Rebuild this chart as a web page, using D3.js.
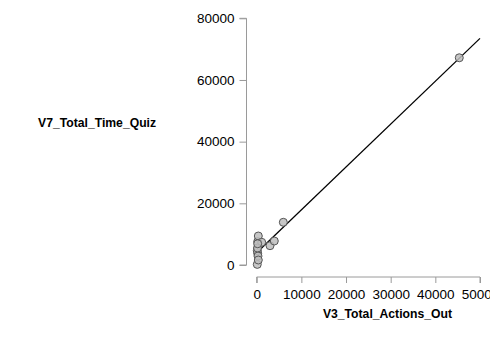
<!DOCTYPE html>
<html>
<head>
<meta charset="utf-8">
<script src="https://cdn.jsdelivr.net/npm/d3@7"></script>
<style>
  html, body { margin: 0; padding: 0; background: #fff; }
  svg { display: block; font-family: "Liberation Sans", Arial, sans-serif; }
</style>
</head>
<body>
<svg id="chart" width="490" height="347"></svg>
<script>
// Data
const totalActionsOut = [130, 220, 360, 220, 1120, 2980, 3940, 130, 180, 220, 290, 360, 5960, 45360];
const totalTimeQuiz   = [200, 7560, 9400, 3790, 7360, 6260, 7780, 4640, 5500, 6900, 2900, 1620, 13850, 67200];
const xTicks = [0, 10000, 20000, 30000, 40000, 50000];
const yTicks = [0, 20000, 40000, 60000, 80000];
const fitIntercept = 4000;
const fitSlope = 1.39;
const xTitle = "V3_Total_Actions_Out";
const yTitle = "V7_Total_Time_Quiz";

const svg = d3.select("#chart");
const x = d3.scaleLinear().domain([0, 50000]).range([256.7, 480]);
const y = d3.scaleLinear().domain([0, 80000]).range([265, 18.3]);

const axisColor = "#9a9a9a";

// Y axis
const yAxis = svg.append("g").attr("transform", "translate(246.5,0)")
  .call(d3.axisLeft(y).tickValues(yTicks).tickSize(7).tickPadding(5).tickFormat(d3.format("d")));
yAxis.select(".domain").attr("d", `M-7,${y(0)}H0V${y(80000)}H-7`).attr("stroke", axisColor);
yAxis.selectAll(".tick line").attr("stroke", axisColor);
yAxis.selectAll(".tick text").attr("fill", "#000").attr("font-size", 13.5).attr("font-family", "Liberation Sans, Arial, sans-serif");

// X axis
const xAxis = svg.append("g").attr("transform", "translate(0,277)")
  .call(d3.axisBottom(x).tickValues(xTicks).tickSize(6).tickPadding(6).tickFormat(d3.format("d")));
xAxis.select(".domain").attr("d", `M${x(0)},6V0H${x(50000)}V6`).attr("stroke", axisColor);
xAxis.selectAll(".tick line").attr("stroke", axisColor);
xAxis.selectAll(".tick text").attr("fill", "#000").attr("font-size", 13.5).attr("font-family", "Liberation Sans, Arial, sans-serif");

// Regression line
svg.append("line")
  .attr("x1", x(0)).attr("y1", y(fitIntercept))
  .attr("x2", x(50000)).attr("y2", y(fitIntercept + fitSlope * 50000))
  .attr("stroke", "#000").attr("stroke-width", 1.3);

// Points
svg.append("g").selectAll("circle")
  .data(totalActionsOut.map((v, i) => [v, totalTimeQuiz[i]]))
  .join("circle")
  .attr("cx", d => x(d[0])).attr("cy", d => y(d[1])).attr("r", 4)
  .attr("fill", "#bdbdbd").attr("fill-opacity", 0.85)
  .attr("stroke", "#555").attr("stroke-width", 1);

// Titles
svg.append("text").attr("x", 452).attr("y", 317.5).attr("text-anchor", "end")
  .attr("font-size", 12.2).attr("font-weight", "bold").attr("fill", "#000").text(xTitle);
svg.append("text").attr("x", 38).attr("y", 126.5).attr("text-anchor", "start")
  .attr("font-size", 12.2).attr("font-weight", "bold").attr("fill", "#000").text(yTitle);
</script>
</body>
</html>
